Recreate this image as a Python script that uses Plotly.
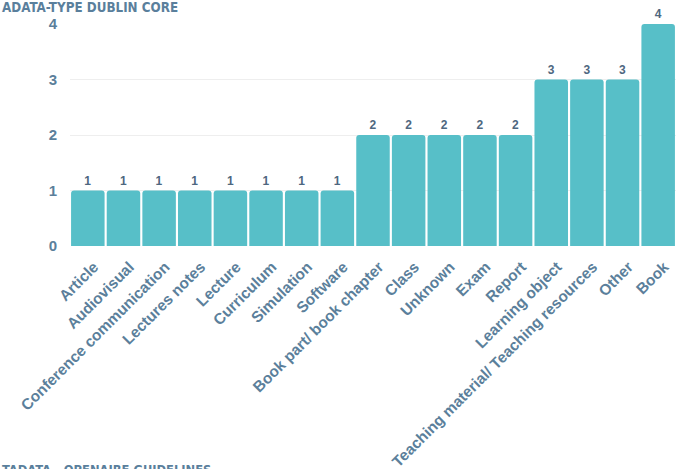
import plotly.graph_objects as go

categories = ["Article", "Audiovisual", "Conference communication", "Lectures notes",
              "Lecture", "Curriculum", "Simulation", "Software", "Book part/ book chapter",
              "Class", "Unknown", "Exam", "Report", "Learning object",
              "Teaching material/ Teaching resources", "Other", "Book"]
values = [1, 1, 1, 1, 1, 1, 1, 1, 2, 2, 2, 2, 2, 3, 3, 3, 4]
y_ticks = [0, 1, 2, 3, 4]
title_top = "ADATA-TYPE DUBLIN CORE"
title_bottom = "TADATA - OPENAIRE GUIDELINES"

label_color = "#5b7f9b"
title_font = "DejaVu Sans Condensed"

fig = go.Figure(go.Bar(
    x=categories, y=values,
    marker=dict(color="#57bfc8", line=dict(width=0), cornerradius=3),
    text=[str(v) for v in values], textposition="outside",
    textfont=dict(family="Liberation Sans", size=12, color="#4e6780", weight="bold"),
    cliponaxis=False,
    hoverinfo="skip",
))

fig.update_layout(
    width=681, height=469,
    margin=dict(l=70, r=5, t=24, b=223, autoexpand=False),
    paper_bgcolor="white", plot_bgcolor="white",
    bargap=0.06,
    showlegend=False,
    font=dict(family="Liberation Sans", color=label_color),
)
fig.update_xaxes(
    tickangle=-45, showgrid=False, showline=False, ticks="", automargin=False,
    ticklabelstandoff=8, ticklabelshift=6,
    tickfont=dict(family="Liberation Sans", size=15.4, color=label_color, weight="bold"),
)
fig.update_yaxes(
    range=[0, 4], tickvals=y_ticks, showgrid=True, gridcolor="#eeeeee", gridwidth=1,
    zeroline=False, showline=False, ticks="", ticklabelstandoff=12, automargin=False,
    tickfont=dict(family="Liberation Sans", size=15, color=label_color, weight="bold"),
)

fig.add_annotation(
    text=title_top, xref="paper", yref="paper", x=-70/606, y=1, yshift=26,
    xanchor="left", yanchor="top", showarrow=False,
    font=dict(family=title_font, size=13.3, color="#5a7f9c", weight="bold"),
)
fig.add_annotation(
    text=title_bottom, xref="paper", yref="paper", x=-70/606, y=0, yshift=-214,
    xanchor="left", yanchor="top", showarrow=False,
    font=dict(family=title_font, size=12.8, color="#5a7f9c", weight="bold"),
)

fig.write_html("out.html", post_script="document.body.style.margin='0';",
               config={"displayModeBar": False})
